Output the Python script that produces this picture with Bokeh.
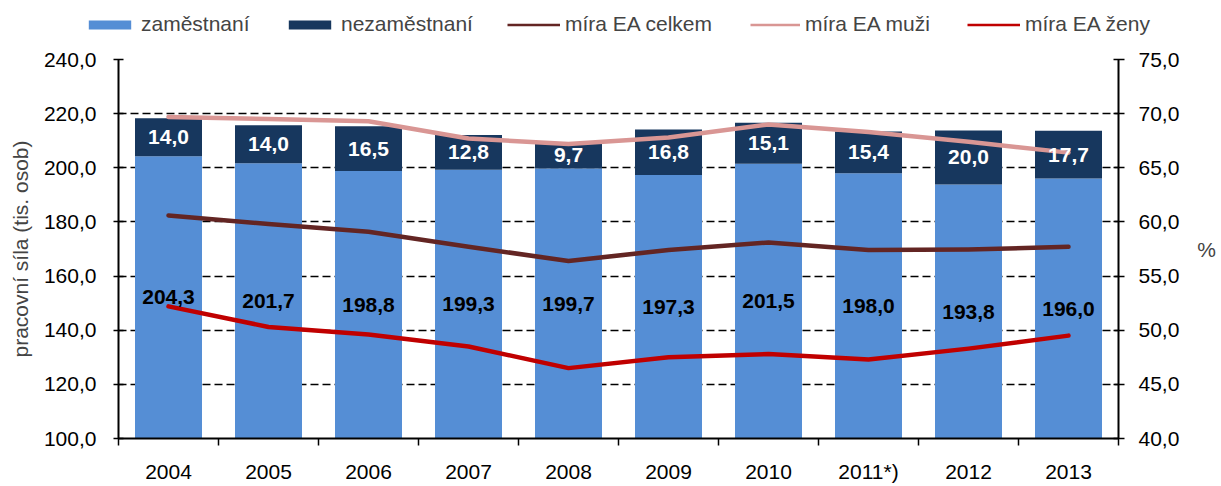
from bokeh.plotting import figure
from bokeh.models import (ColumnDataSource, LinearAxis, Range1d, FixedTicker,
                          CustomJSTickFormatter, Legend, LegendItem, LabelSet)
from bokeh.embed import file_html
from bokeh.resources import INLINE
from bokeh.core.properties import value

years = ["2004", "2005", "2006", "2007", "2008", "2009", "2010", "2011*)", "2012", "2013"]
employed = [204.3, 201.7, 198.8, 199.3, 199.7, 197.3, 201.5, 198.0, 193.8, 196.0]
unemployed = [14.0, 14.0, 16.5, 12.8, 9.7, 16.8, 15.1, 15.4, 20.0, 17.7]
rate_total = [60.6, 59.8, 59.1, 57.7, 56.4, 57.4, 58.1, 57.4, 57.45, 57.7]
rate_men = [69.7, 69.5, 69.3, 67.7, 67.2, 67.8, 69.0, 68.3, 67.4, 66.4]
rate_women = [52.2, 50.3, 49.6, 48.5, 46.5, 47.5, 47.8, 47.3, 48.3, 49.5]

left_ticks = [100, 120, 140, 160, 180, 200, 220, 240]
right_ticks = [40, 45, 50, 55, 60, 65, 70, 75]
series_names = ["zaměstnaní", "nezaměstnaní", "míra EA celkem", "míra EA muži", "míra EA ženy"]

C_EMP = "#558ED5"
C_UNEMP = "#17375E"
C_TOT = "#632523"
C_MEN = "#D99694"
C_WOM = "#C00000"
FONT = "Liberation Sans"
FS = "21px"

n = len(years)
xs = [i + 0.5 for i in range(n)]
fmt = lambda v: f"{v:.1f}".replace(".", ",")

src = ColumnDataSource(dict(
    x=xs,
    emp=employed,
    unemp_top=[e + u for e, u in zip(employed, unemployed)],
    emp_lab_y=[(left_ticks[0] + e) / 2 for e in employed],
    unemp_lab_y=[e + u / 2 for e, u in zip(employed, unemployed)],
    emp_txt=[fmt(e) for e in employed],
    unemp_txt=[fmt(u) for u in unemployed],
    tot=rate_total, men=rate_men, wom=rate_women,
))

W = 1219
LEG_H = 40
MAIN_H = 445

# ---------------- legend strip (separate root, full-width frame) ----------------
lf = figure(width=W, height=LEG_H, x_range=Range1d(0, 1), y_range=Range1d(0, 1),
            output_backend="svg", toolbar_location=None, min_border=0)
lf.axis.visible = False
lf.grid.visible = False
lf.outline_line_color = None
# helper renderers used only for legend swatches (their data lie outside the visible range)
off = ColumnDataSource(dict(x=[5, 6], y=[5, 5], t=[5, 5]))
d_emp = lf.vbar(x="x", top="t", width=1, source=off, fill_color=C_EMP, line_color=None)
d_unemp = lf.vbar(x="x", top="t", width=1, source=off, fill_color=C_UNEMP, line_color=None)
d_tot = lf.line("x", "y", source=off, line_color=C_TOT, line_width=2.5)
d_men = lf.line("x", "y", source=off, line_color=C_MEN, line_width=2.5)
d_wom = lf.line("x", "y", source=off, line_color=C_WOM, line_width=2.5)

legend_specs = [
    (series_names[0], d_emp, 83, 53),
    (series_names[1], d_unemp, 283, 53),
    (series_names[2], d_tot, 507, 53),
    (series_names[3], d_men, 750, 50),
    (series_names[4], d_wom, 967, 53),
]
for lab, rend, lx, gw in legend_specs:
    lg = Legend(items=[LegendItem(label=lab, renderers=[rend])], location=(lx, 4),
                orientation="horizontal", padding=0, margin=0,
                border_line_alpha=0, background_fill_alpha=0,
                glyph_width=gw, glyph_height=11, label_height=24, label_standoff=5,
                label_text_font=FONT, label_text_font_size=FS)
    lf.add_layout(lg, "center")

# ---------------- main chart ----------------
p = figure(width=W, height=MAIN_H, x_range=Range1d(0, n), y_range=Range1d(100, 240),
           output_backend="svg", toolbar_location=None,
           min_border_left=118, min_border_right=W - 1120, min_border_top=59 - LEG_H,
           min_border_bottom=MAIN_H - (439 - LEG_H))
p.extra_y_ranges = {"pct": Range1d(40, 75)}
p.outline_line_color = None
p.background_fill_color = "white"
p.xgrid.visible = False
p.ygrid.grid_line_color = "black"
p.ygrid.grid_line_dash = "8 4"
p.ygrid.grid_line_width = 1.3

tick_fmt = CustomJSTickFormatter(code="return tick.toFixed(1).replace('.', ',');")

ya = p.yaxis[0]
ya.ticker = FixedTicker(ticks=left_ticks)
ya.formatter = tick_fmt
ya.axis_line_width = 2
ya.major_tick_in = 5
ya.major_tick_out = 5
ya.major_tick_line_width = 1.5
ya.minor_tick_line_color = None
ya.major_label_text_font = FONT
ya.major_label_text_font_size = FS
ya.major_label_text_color = "black"
ya.major_label_standoff = 17
ya.axis_label = "pracovní síla (tis. osob)"
ya.axis_label_text_font = FONT
ya.axis_label_text_font_size = FS
ya.axis_label_text_font_style = "normal"
ya.axis_label_standoff = 9

ra = LinearAxis(y_range_name="pct", ticker=FixedTicker(ticks=right_ticks), formatter=tick_fmt)
ra.axis_line_width = 2
ra.major_tick_in = 5
ra.major_tick_out = 6
ra.major_tick_line_width = 1.5
ra.minor_tick_line_color = None
ra.major_label_text_font = FONT
ra.major_label_text_font_size = FS
ra.major_label_text_color = "black"
ra.major_label_standoff = 14
ra.axis_label = "%"
ra.axis_label_text_font = FONT
ra.axis_label_text_font_size = FS
ra.axis_label_text_font_style = "normal"
ra.axis_label_standoff = 15
if "axis_label_orientation" in ra.properties():
    ra.axis_label_orientation = "horizontal"
p.add_layout(ra, "right")

xa = p.xaxis[0]
xa.ticker = FixedTicker(ticks=xs, minor_ticks=list(range(n + 1)))
xa.formatter = CustomJSTickFormatter(args=dict(labels=years),
                                     code="return labels[Math.floor(tick)];")
xa.axis_line_width = 2
xa.major_tick_in = 0
xa.major_tick_out = 0
xa.minor_tick_in = 0
xa.minor_tick_out = 7
xa.minor_tick_line_width = 1.5
xa.minor_tick_line_color = "black"
xa.major_label_text_font = FONT
xa.major_label_text_font_size = FS
xa.major_label_text_color = "black"
xa.major_label_standoff = 14

p.vbar(x="x", width=0.67, bottom=0, top="emp", source=src,
       fill_color=C_EMP, line_color=None)
p.vbar(x="x", width=0.67, bottom="emp", top="unemp_top", source=src,
       fill_color=C_UNEMP, line_color=None)

p.line("x", "men", source=src, y_range_name="pct", line_color=C_MEN, line_width=4.5, line_join="round", line_cap="round")
p.line("x", "tot", source=src, y_range_name="pct", line_color=C_TOT, line_width=4.5, line_join="round", line_cap="round")
p.line("x", "wom", source=src, y_range_name="pct", line_color=C_WOM, line_width=4.5, line_join="round", line_cap="round")

p.add_layout(LabelSet(x="x", y="emp_lab_y", text="emp_txt", source=src,
                      text_align="center", text_baseline="middle",
                      text_font=value(FONT), text_font_size=FS,
                      text_font_style="bold", text_color="black"))
p.add_layout(LabelSet(x="x", y="unemp_lab_y", text="unemp_txt", source=src,
                      text_align="center", text_baseline="middle",
                      text_font=value(FONT), text_font_size=FS,
                      text_font_style="bold", text_color="white"))

open("out.html", "w").write(file_html([lf, p], INLINE))
